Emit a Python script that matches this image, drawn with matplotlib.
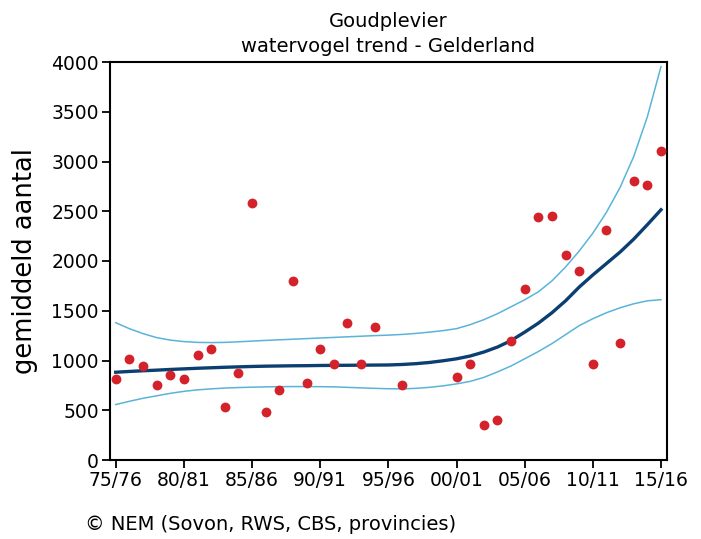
import matplotlib
matplotlib.use("Agg")
from matplotlib import pyplot as plt

# seasons 75/76 .. 15/16 as index 0..40
tick_pos = [0, 5, 10, 15, 20, 25, 30, 35, 40]
tick_labels = ["75/76", "80/81", "85/86", "90/91", "95/96", "00/01", "05/06", "10/11", "15/16"]

# observed means (some seasons missing)
obs_x = [0, 1, 2, 3, 4, 5, 6, 7, 8, 9, 10, 11, 12, 13, 14, 15, 16, 17, 18, 19,
         21, 25, 26, 27, 28, 29, 30, 31, 32, 33, 34, 35, 36, 37, 38, 39, 40]
obs_y = [816, 1020, 940, 758, 859, 816, 1060, 1118, 537, 879, 2578, 479, 701, 1799, 778, 1118, 960, 1376, 960, 1339,
         758, 839, 960, 355, 403, 1198, 1718, 2440, 2457, 2060, 1899, 960, 2316, 1178, 2800, 2759, 3102]

# trend and confidence band per season
trend_x = list(range(41))
trend = [882, 890, 897, 903, 910, 916, 922, 927, 932, 936, 940, 943, 945, 947, 948, 950, 951, 952, 953, 954,
         955, 960, 968, 980, 997, 1017, 1045, 1085, 1135, 1200, 1285, 1375, 1480, 1600, 1738, 1860, 1975, 2090,
         2220, 2365, 2515]
upper = [1380, 1320, 1270, 1230, 1205, 1190, 1182, 1180, 1182, 1188, 1195, 1202, 1208, 1214, 1220, 1226, 1232,
         1238, 1244, 1250, 1255, 1262, 1272, 1285, 1300, 1320, 1360, 1410, 1470, 1540, 1610, 1690, 1800, 1940,
         2100, 2280, 2490, 2740, 3050, 3450, 3954]
lower = [557, 590, 620, 645, 670, 690, 705, 715, 723, 728, 732, 735, 737, 738, 738, 737, 735, 730, 725, 720,
         716, 715, 720, 730, 745, 765, 790, 830, 885, 945, 1017, 1090, 1170, 1260, 1350, 1420, 1480, 1530, 1570,
         1600, 1611]

fig = plt.figure(figsize=(7.01, 5.39), dpi=100)
ax = fig.add_axes([110 / 701, 1 - 460 / 539, 557 / 701, 398 / 539])

ax.plot(trend_x, upper, color="#5ab4d8", lw=1.1)
ax.plot(trend_x, lower, color="#5ab4d8", lw=1.1)
ax.plot(trend_x, trend, color="#0b3f72", lw=2.4)
ax.scatter(obs_x, obs_y, s=50, color="#d3222a", zorder=3, linewidths=0)

ax.set_xlim(-0.42, 40.44)
ax.set_ylim(0, 4000)
ax.set_xticks(tick_pos)
ax.set_xticklabels(tick_labels)
ax.set_yticks(range(0, 4001, 500))
ax.tick_params(direction="out", length=6, width=1.3, labelsize=13.5, pad=2)
for sp in ax.spines.values():
    sp.set_linewidth(1.5)

ax.set_ylabel("gemiddeld aantal", fontsize=18.5)
ax.yaxis.set_label_coords(-0.129, 0.5)
ax.set_title("Goudplevier\nwatervogel trend - Gelderland", fontsize=14, linespacing=1.45, pad=7)

fig.text(85 / 701, 1 - 524 / 539, "\u00a9 NEM (Sovon, RWS, CBS, provincies)", fontsize=14, va="center")

fig.savefig("out.png", dpi=100)
plt.close(fig)
